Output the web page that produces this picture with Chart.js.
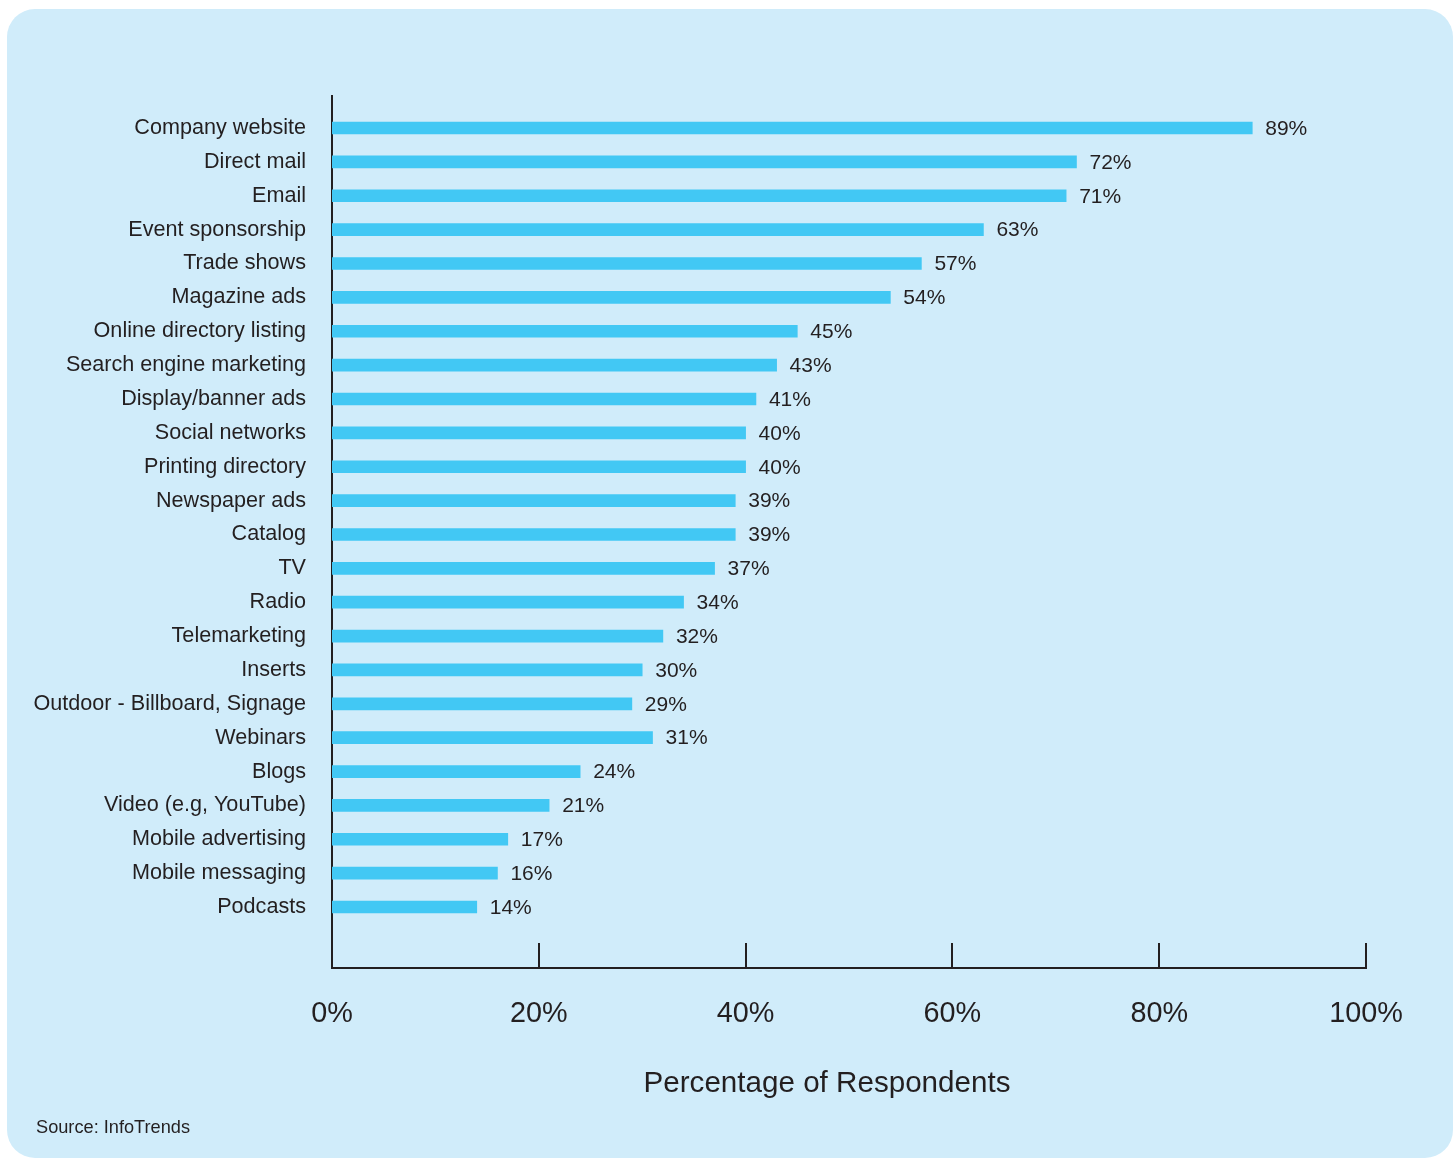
<!DOCTYPE html>
<html><head><meta charset="utf-8">
<script src="https://cdn.jsdelivr.net/npm/chart.js@4"></script>
<style>
html,body{margin:0;padding:0;background:#fff;}
#card{position:absolute;left:7px;top:9px;width:1446px;height:1149px;border-radius:28px;background:#d0ecfa;}
#wrap{position:absolute;left:0;top:0;width:1453px;height:1158px;}
#src{position:absolute;left:36px;top:1117px;font:18.2px "Liberation Sans",Arial,sans-serif;color:#231f20;}
</style></head>
<body>
<div id="card"></div>
<div id="wrap"><canvas id="c" width="1453" height="1158"></canvas></div>
<div id="src">Source: InfoTrends</div>
<script>
const categories = [
  "Company website","Direct mail","Email","Event sponsorship","Trade shows","Magazine ads",
  "Online directory listing","Search engine marketing","Display/banner ads","Social networks",
  "Printing directory","Newspaper ads","Catalog","TV","Radio","Telemarketing","Inserts",
  "Outdoor - Billboard, Signage","Webinars","Blogs","Video (e.g, YouTube)","Mobile advertising",
  "Mobile messaging","Podcasts"
];
const values = [89,72,71,63,57,54,45,43,41,40,40,39,39,37,34,32,30,29,31,24,21,17,16,14];
const xTicks = [0,20,40,60,80,100];
const axisTitle = "Percentage of Respondents";

const INK = '#231f20';
const BAR = '#42c8f4';
Chart.defaults.font.family = '"Liberation Sans", Arial, sans-serif';
Chart.defaults.color = INK;

const decoPlugin = {
  id: 'deco',
  afterDatasetsDraw(chart) {
    const ctx = chart.ctx;
    const meta = chart.getDatasetMeta(0);
    ctx.save();
    ctx.fillStyle = INK;
    ctx.font = '21px "Liberation Sans", Arial, sans-serif';
    ctx.textAlign = 'left';
    ctx.textBaseline = 'middle';
    meta.data.forEach((bar, i) => {
      ctx.fillText(values[i] + '%', bar.x + 13, bar.y + 1);
    });
    ctx.restore();
  },
  afterDraw(chart) {
    const ctx = chart.ctx, x = chart.scales.x, area = chart.chartArea;
    ctx.save();
    ctx.strokeStyle = INK;
    ctx.lineWidth = 2;
    xTicks.forEach(v => {
      if (v === 0) return;
      const px = Math.round(x.getPixelForValue(v));
      ctx.beginPath();
      ctx.moveTo(px, area.bottom);
      ctx.lineTo(px, area.bottom - 25);
      ctx.stroke();
    });
    ctx.fillStyle = INK;
    ctx.font = '29.6px "Liberation Sans", Arial, sans-serif';
    ctx.textAlign = 'center';
    ctx.textBaseline = 'middle';
    ctx.fillText(axisTitle, 827, 1084);
    ctx.restore();
  }
};

new Chart(document.getElementById('c'), {
  type: 'bar',
  data: {
    datasets: [{
      data: values.map((v, i) => ({x: v, y: i})),
      backgroundColor: BAR,
      borderWidth: 0,
      barThickness: 12
    }]
  },
  options: {
    indexAxis: 'y',
    responsive: false,
    animation: false,
    layout: {padding: {top: 96, right: 87, bottom: 0, left: 0}},
    plugins: {legend: {display: false}, tooltip: {enabled: false}},
    scales: {
      y: {
        type: 'linear', reverse: true, min: -0.945, max: 24.8, offset: false,
        afterBuildTicks: s => { s.ticks = categories.map((_, i) => ({value: i})); },
        afterFit: s => { s.width = 332; },
        grid: {display: false, drawTicks: false, offset: false},
        border: {display: true, color: INK, width: 2},
        ticks: {autoSkip: false, padding: 26, color: INK, font: {size: 21.6},
                callback: v => categories[v]}
      },
      x: {
        type: 'linear', min: 0, max: 100,
        afterBuildTicks: s => { s.ticks = xTicks.map(v => ({value: v})); },
        afterFit: s => { s.height = 190; },
        grid: {display: false, drawTicks: false},
        border: {display: true, color: INK, width: 2},
        ticks: {padding: 29, color: INK, font: {size: 28.8}, maxRotation: 0,
                callback: v => v + '%'}
      }
    }
  },
  plugins: [decoPlugin]
});
</script>
</body></html>
